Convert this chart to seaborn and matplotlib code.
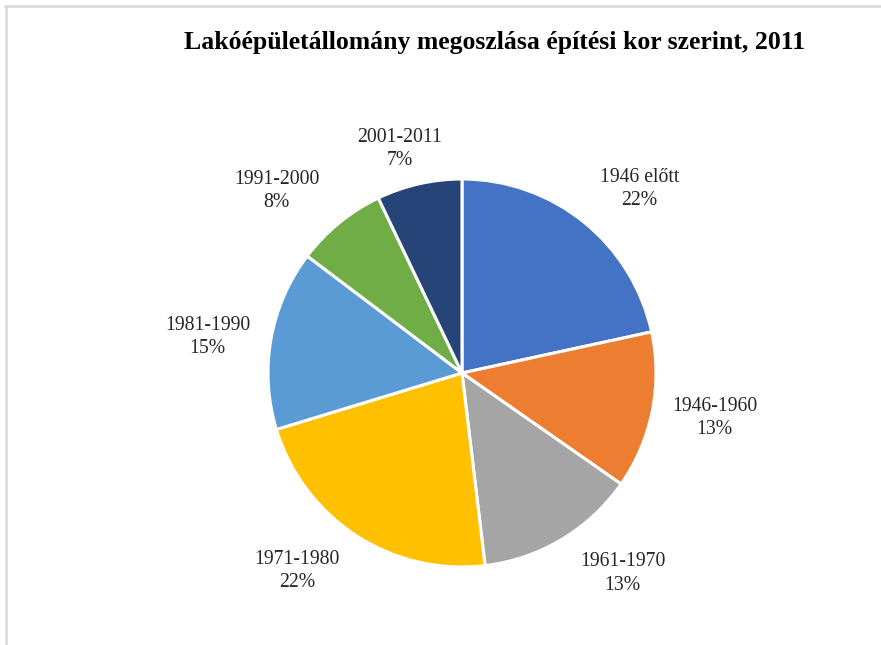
import numpy as np
import matplotlib
matplotlib.use("Agg")
import matplotlib.pyplot as plt
from matplotlib.lines import Line2D
import seaborn as sns

# Building stock by construction period, 2011 (%)
periods = ["1946 előtt", "1946-1960", "1961-1970", "1971-1980",
           "1981-1990", "1991-2000", "2001-2011"]
shares = [21.6, 13.1, 13.4, 22.2, 15.0, 7.6, 7.1]
colors = ["#4472C4", "#ED7D31", "#A5A5A5", "#FFC000",
          "#5B9BD5", "#70AD47", "#264478"]
title = "Lakóépületállomány megoszlása építési kor szerint, 2011"

# label placement: radial distance (in radii) and angular nudge (deg)
label_dist = [1.318, 1.322, 1.324, 1.328, 1.325, 1.338, 1.20]
label_nudge = [-5.1, 1.2, 7.8, -6.7, 2.0, 6.3, 2.8]

sns.set_theme(style="white")
plt.rcParams["font.family"] = ["Liberation Serif", "DejaVu Serif"]

W, H = 881, 645
fig = plt.figure(figsize=(W / 100, H / 100), dpi=100)
ax = fig.add_axes([0, 0, 1, 1])

R = 194
cx, cy = 462, H - 373
palette = sns.color_palette(colors)
wedges, _ = ax.pie(shares, colors=palette, startangle=90, counterclock=False,
                   radius=R, center=(cx, cy),
                   wedgeprops=dict(edgecolor="white", linewidth=2.2))
ax.set_xlim(0, W)
ax.set_ylim(0, H)
ax.set_aspect("equal")
ax.axis("off")

total = sum(shares)
for w, name, val, d, nd in zip(wedges, periods, shares, label_dist, label_nudge):
    ang = np.deg2rad((w.theta1 + w.theta2) / 2 + nd)
    x = cx + d * R * np.cos(ang)
    y = cy + d * R * np.sin(ang)
    ax.text(x, y, f"{name}\n{round(val / total * 100):.0f}%", ha="center",
            va="center", fontsize=14.2, color="#262626", linespacing=1.32)

fig.text(495 / W, 1 - 43 / H, title, ha="center", va="center",
         fontsize=18.5, fontweight="bold", color="black")

# chart frame edges
fig.add_artist(Line2D([5 / W, 1], [1 - 6 / H, 1 - 6 / H], color="#D9D9D9",
                      linewidth=1.8, transform=fig.transFigure))
fig.add_artist(Line2D([6 / W, 6 / W], [0, 1 - 6 / H], color="#D9D9D9",
                      linewidth=1.8, transform=fig.transFigure))

fig.savefig("out.png", dpi=100)
